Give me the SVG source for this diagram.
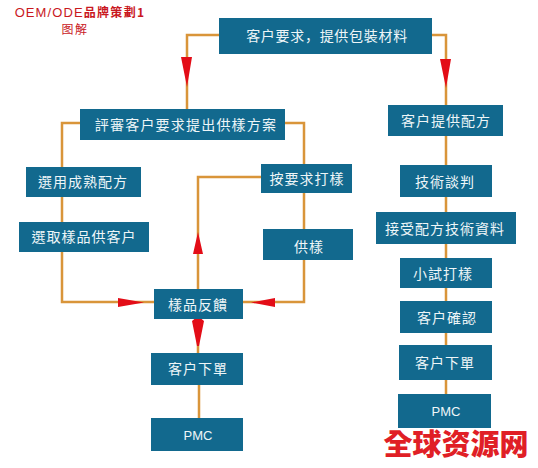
<svg xmlns="http://www.w3.org/2000/svg" width="538" height="468" viewBox="0 0 538 468">
<style>
.b{fill:#12698e}
.t{fill:#eef6f8;font-family:"Noto Sans CJK TC","Noto Sans CJK SC",sans-serif;font-size:14px;letter-spacing:1px;text-anchor:middle}
.p{fill:#eef6f8;font-family:"Liberation Sans",sans-serif;font-size:13px;text-anchor:middle}
.c{fill:none;stroke:#d9953a;stroke-width:2.500}
.a{fill:#e30d17}
.r{fill:#c9181e;font-family:"Noto Sans CJK TC","Noto Sans CJK SC",sans-serif;text-anchor:middle}
</style>
<rect width="538" height="468" fill="#fff"/>
<g id="connectors">
<path class="c" d="M219 35H187V109M432 35H446V105M446 136V165M446 197V212M446 244V258M446 288V301M446 333V345M446 380V394"/>
<path class="c" d="M80 123H62V167M62 197V222M62 252V302H154M285 123H304V164M304 193V229M304 260V302H243M261 177H198V289M198 319V353M199 385V418"/>
<path class="a" d="M181 57H192L187 87ZM440 59H451L446 88ZM118 298L144 302.500L118 307ZM275 298L251 302.500L275 307ZM198 232L203 254H193ZM192 321L198 316L204 321L199 346H197Z"/>
</g>
<g id="title">
<text class="r" x="80" y="17" font-size="12" font-weight="700"><tspan font-family="Liberation Sans,sans-serif" font-weight="400" font-size="13" letter-spacing="1.100">OEM/ODE</tspan><tspan letter-spacing="1.300">品牌策劃1</tspan></text>
<text class="r" x="75" y="34" font-size="12" letter-spacing="1.500">图解</text>
</g>
<g id="n1"><rect class="b" x="219" y="18" width="213" height="36"/><text class="t" x="327" y="41" style="font-family:'Noto Sans CJK SC',sans-serif;letter-spacing:.7px">客户要求&#xFF0C;提供包裝材料</text></g>
<g id="n2"><rect class="b" x="80" y="109" width="205" height="31"/><text class="t" x="186" y="130" style="letter-spacing:1.200px">評審客户要求提出供樣方案</text></g>
<g id="n3"><rect class="b" x="26" y="167" width="115" height="30"/><text class="t" x="83" y="187">選用成熟配方</text></g>
<g id="n4"><rect class="b" x="19" y="222" width="130" height="30"/><text class="t" x="84" y="242">選取樣品供客户</text></g>
<g id="n5"><rect class="b" x="261" y="164" width="91" height="29"/><text class="t" x="307" y="184">按要求打樣</text></g>
<g id="n6"><rect class="b" x="263" y="229" width="90" height="31"/><text class="t" x="309" y="252">供樣</text></g>
<g id="n7"><rect class="b" x="154" y="289" width="89" height="30"/><text class="t" x="198" y="310">樣品反饋</text></g>
<g id="n8"><rect class="b" x="151" y="353" width="92" height="32"/><text class="t" x="198" y="374">客户下單</text></g>
<g id="n9"><rect class="b" x="151" y="418" width="92" height="33"/><text class="p" x="198" y="440">PMC</text></g>
<g id="n10"><rect class="b" x="388" y="105" width="115" height="31"/><text class="t" x="446" y="126">客户提供配方</text></g>
<g id="n11"><rect class="b" x="400" y="165" width="92" height="32"/><text class="t" x="445" y="187">技術談判</text></g>
<g id="n12"><rect class="b" x="376" y="212" width="140" height="32"/><text class="t" x="445" y="234">接受配方技術資料</text></g>
<g id="n13"><rect class="b" x="400" y="258" width="92" height="30"/><text class="t" x="443" y="279">小試打樣</text></g>
<g id="n14"><rect class="b" x="400" y="301" width="92" height="32"/><text class="t" x="447" y="323">客户確認</text></g>
<g id="n15"><rect class="b" x="399" y="345" width="93" height="35"/><text class="t" x="445" y="368">客户下單</text></g>
<g id="n16"><rect class="b" x="398" y="394" width="93" height="34"/><text class="p" x="446" y="416">PMC</text></g>
<g id="watermark"><text class="r" x="456" y="455" font-size="29" font-weight="900" style="fill:#e01f26">全球资源网</text></g>
</svg>
